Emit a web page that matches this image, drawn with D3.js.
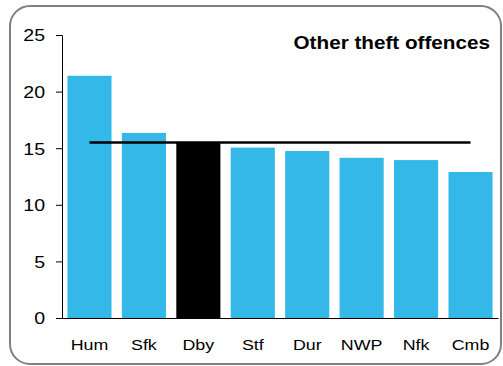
<!DOCTYPE html>
<html><head><meta charset="utf-8">
<script src="https://cdn.jsdelivr.net/npm/d3@7/dist/d3.min.js"></script>
<style>body{margin:0;background:#fff;}svg{display:block;}</style>
</head><body>
<script>
const categories = ["Hum","Sfk","Dby","Stf","Dur","NWP","Nfk","Cmb"];
const values = [21.4, 16.35, 15.5, 15.05, 14.75, 14.15, 13.95, 12.9];
const average = [15.5, 15.5, 15.5, 15.5, 15.5, 15.5, 15.5, 15.5];
const highlight = "Dby";
const yTicks = [0, 5, 10, 15, 20, 25];
const title = "Other theft offences";

const W = 503, H = 366;
const SX = 1.15;
const svg = d3.select("body").append("svg").attr("width", W).attr("height", H);

svg.append("rect").attr("x", 10).attr("y", 6).attr("width", 491).attr("height", 358)
  .attr("rx", 20).attr("ry", 20).attr("fill", "#fff").attr("stroke", "#808080").attr("stroke-width", 2);

const x = d3.scaleBand().domain(categories).range([62, 498]).paddingInner(0.19).paddingOuter(0.1);
const y = d3.scaleLinear().domain([0, 25]).range([318, 35]);

svg.selectAll("rect.bar").data(categories).enter().append("rect")
  .attr("class", "bar")
  .attr("x", d => x(d)).attr("width", x.bandwidth())
  .attr("y", (d, i) => y(values[i])).attr("height", (d, i) => y(0) - y(values[i]))
  .attr("fill", d => d === highlight ? "#000" : "#33b8e8");

const line = d3.line().x((d, i) => x(categories[i]) + x.bandwidth() / 2).y(d => y(d));
svg.append("path").datum(average).attr("d", line).attr("fill", "none")
  .attr("stroke", "#000").attr("stroke-width", 2.4);

const font = "'Liberation Sans', Arial, Helvetica, sans-serif";

const yAx = svg.append("g").attr("transform", "translate(62,0)")
  .call(d3.axisLeft(y).tickValues(yTicks).tickSize(6).tickFormat(d3.format("d")));
yAx.selectAll("path,line").attr("stroke", "#000");
yAx.selectAll("text").attr("font-family", font).attr("font-size", 17).attr("fill", "#000")
  .attr("x", -17 / SX).attr("dy", "0.35em").attr("transform", `scale(${SX},1)`);

const xAx = svg.append("g").attr("transform", "translate(0,318)")
  .call(d3.axisBottom(x).tickSize(0).tickSizeOuter(0));
xAx.select("path").attr("stroke", "#000");
xAx.selectAll("text").attr("font-family", font).attr("font-size", 15.5).attr("fill", "#000")
  .attr("y", 32).attr("dy", 0).attr("transform", `scale(${SX},1)`);

svg.append("text").attr("transform", `translate(490,49) scale(${SX},1)`)
  .attr("text-anchor", "end").attr("font-family", font).attr("font-weight", "bold")
  .attr("font-size", 18).attr("fill", "#000").text(title);
</script>
</body></html>
